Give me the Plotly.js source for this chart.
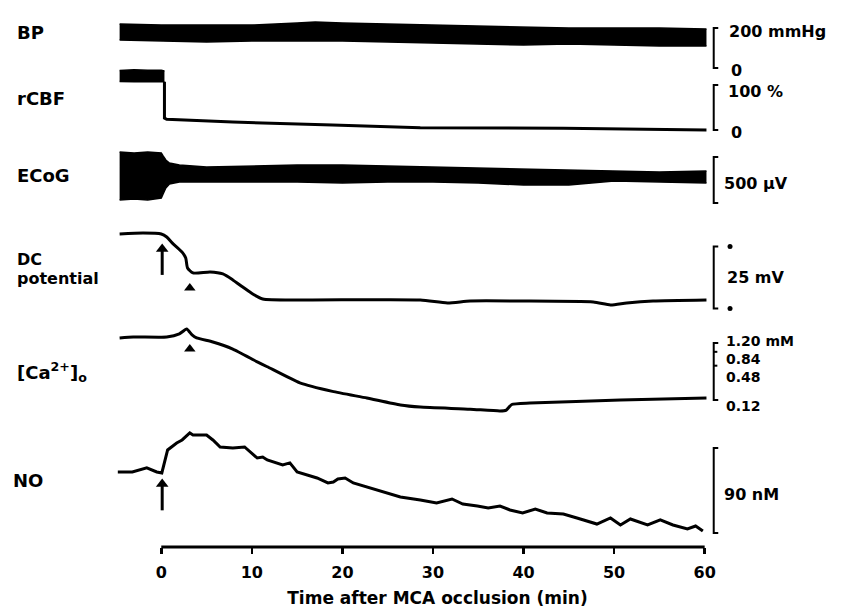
<!DOCTYPE html>
<html>
<head>
<meta charset="utf-8">
<script src="https://cdn.plot.ly/plotly-3.0.1.min.js"></script>
<style>
  html, body { margin: 0; padding: 0; background: #ffffff; }
  #chart { width: 846px; height: 609px; }
</style>
</head>
<body>
<div id="chart"></div>
<script>
// ---------------- data ----------------
// time axis in minutes after MCA occlusion
const xTicks = [0, 10, 20, 30, 40, 50, 60];

// Blood pressure (mmHg) — envelope of the pulsatile trace
const bpTime  = [-4.6, 0, 5, 10, 15, 17, 20, 25, 30, 35, 40, 45, 50, 55, 60.2];
const bpUpper = [220, 215, 215, 215, 225, 230, 225, 220, 215, 210, 205, 200, 200, 200, 195];
const bpLower = [140, 135, 130, 135, 135, 135, 135, 130, 125, 120, 115, 120, 115, 110, 110];

// rCBF (%) — pre-occlusion band, then post-occlusion trace
const rcbfPreTime  = [-4.6, -3, -1.5, 0, 0.35];
const rcbfPreUpper = [132, 134, 133, 133, 131];
const rcbfPreLower = [108, 107, 108, 107, 107];
const rcbfTime  = [0.35, 0.35, 0.6, 7.9, 18.9, 28.6, 44.4, 60.2];
const rcbfValue = [107, 26.7, 24, 17.8, 11.1, 5.1, 3.7, 0];

// ECoG (µV) — envelope of the signal
const ecogTime  = [-4.6, -3, -1.5, 0, 0.2, 0.5, 0.9, 2, 5, 10, 15, 20, 25, 30, 35, 40, 45, 50, 55, 60.2];
const ecogUpper = [304, 293, 304, 293, 261, 217, 185, 163, 141, 152, 163, 163, 152, 141, 130, 120, 109, 98, 87, 98];
const ecogLower = [-217, -207, -217, -196, -152, -87, -43, -22, -22, -22, -22, -33, -22, -22, -33, -54, -54, -11, -22, -33];

// DC potential (mV, relative to baseline)
const dcTime  = [-4.6, -2, 0, 0.6, 1.2, 2.3, 2.7, 2.9, 3.5, 5.4, 6.8, 7.9, 9.0, 10.1, 11.2, 15.3, 28.6, 31.6, 34.1, 39.6, 47.7, 49.6, 51.4, 54.3, 60.2];
const dcValue = [0, 0.4, 0, -1.2, -3.6, -7.3, -9.7, -13.7, -15.7, -15.3, -16.1, -18.5, -21.4, -24.2, -26.2, -26.6, -26.6, -27.8, -27.0, -27.0, -27.4, -28.6, -27.8, -27.0, -26.6];

// extracellular calcium (mM, log scale)
const caTime  = [-4.6, -3.1, 0.6, 2.0, 2.8, 3.4, 3.9, 5.7, 7.9, 10.6, 11.7, 15.3, 18.9, 22.7, 26.4, 28.6, 34.1, 37.4, 38.1, 38.7, 40.7, 50.7, 60.2];
const caValue = [1.47, 1.53, 1.53, 1.73, 2.11, 1.66, 1.47, 1.25, 0.94, 0.56, 0.46, 0.24, 0.17, 0.13, 0.098, 0.090, 0.083, 0.077, 0.080, 0.100, 0.106, 0.120, 0.130];

// NO (nM)
const noTime  = [-4.8, -3.2, -1.6, -0.5, 0.06, 0.4, 0.7, 1.7, 2.3, 3.15, 3.5, 5.0, 5.7, 6.5, 7.9, 9.2, 10.6, 11.2, 11.7, 13.4, 14.2, 15.0, 17.2, 18.4, 19.0, 19.5, 20.3, 21.2, 22.7, 24.5, 26.4, 28.6, 30.4, 32.1, 33.3, 34.9, 36.1, 37.4, 38.5, 39.9, 41.3, 42.6, 44.4, 45.9, 48.1, 49.6, 50.7, 51.8, 53.7, 55.1, 56.5, 58.1, 59.0, 59.8];
const noValue = [64.6, 64.6, 68.9, 64.6, 63.6, 75.2, 87.9, 95.3, 98.5, 105.9, 103.8, 103.8, 98.5, 91.1, 90.0, 91.1, 79.4, 80.5, 77.3, 72.0, 74.2, 64.6, 58.3, 53.0, 54.0, 57.2, 58.3, 53.0, 48.7, 43.4, 38.1, 35.0, 31.8, 36.0, 30.7, 28.6, 26.5, 28.6, 24.4, 21.2, 25.4, 21.2, 20.1, 15.9, 9.5, 15.9, 8.5, 14.8, 8.5, 13.8, 8.5, 4.2, 7.4, 2.1];

// scale bars
const bpScale   = [0, 200];
const rcbfScale = [0, 100];
const ecogScale = [-250, 250];
const dcScale   = [-5, -30];
const caScale   = [1.20, 0.84, 0.48, 0.12];
const noScale   = [0, 90];

// event markers
const occlusionTime = 0.1;
const dcArrowSpan = [-16.5, -6.0];   // mV
const noArrowSpan = [24, 52];        // nM
const depolTime = 3.15;

// ---------------- layout geometry ----------------
const FONT = 'DejaVu Sans, sans-serif';
const M = {l: 116, r: 87, t: 0, b: 62};
const PLOT_H = 609 - M.t - M.b;   // 547
const PLOT_W = 846 - M.l - M.r;   // 643
const X_RANGE = [-5, 66];

function yRange(v1, p1, v2, p2) {
  const k = (p2 - p1) / (v2 - v1);
  return [v1 + (PLOT_H - p1) / k, v1 + (0 - p1) / k];
}
function paperY(py) { return 1 - py / PLOT_H; }
function paperX(px) { return (px - M.l) / PLOT_W; }

const BX = 61.0, BX2 = 61.5;  // bracket position (min units)

function band(t, lo, hi, ya) {
  return [
    {x: t, y: lo, yaxis: ya, mode: 'lines', line: {color: 'black', width: 1.5}, hoverinfo: 'skip', showlegend: false},
    {x: t, y: hi, yaxis: ya, mode: 'lines', fill: 'tonexty', fillcolor: 'black', line: {color: 'black', width: 1.5}, hoverinfo: 'skip', showlegend: false}
  ];
}
function bracket(top, bottom, ya, extra) {
  const xs = [BX2, BX, BX, BX2], ys = [top, top, bottom, bottom];
  (extra || []).forEach(v => { xs.push(null, BX, BX + 0.4); ys.push(null, v, v); });
  return {x: xs, y: ys, yaxis: ya, mode: 'lines', line: {color: 'black', width: 2}, hoverinfo: 'skip', showlegend: false};
}
function upArrow(t, span, ya) {
  return [
    {x: [t, t], y: span, yaxis: ya, mode: 'lines', line: {color: 'black', width: 3}, hoverinfo: 'skip', showlegend: false},
    {x: [t], y: [span[1]], yaxis: ya, mode: 'markers',
     marker: {symbol: 'triangle-up', color: 'black', size: 11, opacity: 1, line: {width: 0}}, hoverinfo: 'skip', showlegend: false}
  ];
}

const traces = [
  ...band(bpTime, bpLower, bpUpper, 'y'),
  ...band(rcbfPreTime, rcbfPreLower, rcbfPreUpper, 'y2'),
  {x: rcbfTime, y: rcbfValue, yaxis: 'y2', mode: 'lines', line: {color: 'black', width: 3}, showlegend: false},
  ...band(ecogTime, ecogLower, ecogUpper, 'y3'),
  {x: dcTime, y: dcValue, yaxis: 'y4', mode: 'lines', line: {color: 'black', width: 3, shape: 'spline', smoothing: 0.6}, showlegend: false},
  {x: caTime, y: caValue, yaxis: 'y5', mode: 'lines', line: {color: 'black', width: 3, shape: 'spline', smoothing: 0.5}, showlegend: false},
  {x: noTime, y: noValue, yaxis: 'y6', mode: 'lines', line: {color: 'black', width: 3}, showlegend: false},
  bracket(bpScale[1], bpScale[0], 'y'),
  bracket(rcbfScale[1], rcbfScale[0], 'y2'),
  bracket(ecogScale[1], ecogScale[0], 'y3'),
  bracket(dcScale[0], dcScale[1], 'y4'),
  bracket(caScale[0], caScale[3], 'y5', [caScale[1], caScale[2]]),
  bracket(noScale[1], noScale[0], 'y6'),
  {x: [62.8, 62.8], y: dcScale, yaxis: 'y4', mode: 'markers', marker: {color: 'black', size: 5}, showlegend: false, hoverinfo: 'skip'},
  // occlusion arrows
  ...upArrow(occlusionTime, dcArrowSpan, 'y4'),
  ...upArrow(occlusionTime, noArrowSpan, 'y6'),
  // depolarisation markers (arrowheads under the DC and Ca traces)
  {x: [depolTime], y: [-21.8], yaxis: 'y4', mode: 'markers', marker: {symbol: 'triangle-up', color: 'black', size: 10}, showlegend: false, hoverinfo: 'skip'},
  {x: [depolTime], y: [0.94], yaxis: 'y5', mode: 'markers', marker: {symbol: 'triangle-up', color: 'black', size: 10}, showlegend: false, hoverinfo: 'skip'}
];

const hidden = {visible: false, fixedrange: true, overlaying: 'y', domain: [0, 1]};

const leftFont = {family: FONT, size: 18, color: 'black', weight: 700};
const rightFont = {family: FONT, size: 16, color: 'black', weight: 700};
const caFont = {family: FONT, size: 14, color: 'black', weight: 700};
const dcFont = {family: FONT, size: 16, color: 'black', weight: 700};

function leftLabel(text, py, px, font) {
  return {text: text, xref: 'paper', yref: 'paper', x: paperX(px || 16), y: paperY(py), xanchor: 'left', yanchor: 'middle',
          showarrow: false, font: font || leftFont, borderpad: 0};
}
function rightLabel(text, x, y, ya, yshift, font) {
  return {text: text, xref: 'x', yref: ya, x: x, y: y, xanchor: 'left', yanchor: 'middle', showarrow: false,
          font: font || rightFont, yshift: yshift || 0, borderpad: 0};
}

const annotations = [
  leftLabel('BP', 33),
  leftLabel('rCBF', 98),
  leftLabel('ECoG', 175),
  leftLabel('DC', 259, 16, dcFont),
  leftLabel('potential', 278, 16, dcFont),
  leftLabel('[Ca<sup>2+</sup>]<sub>o</sub>', 372),
  leftLabel('NO', 480, 12),
  rightLabel('200 mmHg', 62.6, bpScale[1], 'y', -3),
  rightLabel('0', 62.8, bpScale[0], 'y', -2),
  rightLabel('100 %', 62.5, rcbfScale[1], 'y2', -6),
  rightLabel('0', 62.8, rcbfScale[0], 'y2', -2),
  rightLabel('500 µV', 62.0, 0, 'y3', -3),
  rightLabel('25 mV', 62.4, -17.5, 'y4', 0),
  rightLabel('1.20 mM', 62.2, Math.log10(caScale[0]), 'y5', 2, caFont),
  rightLabel('0.84', 62.2, Math.log10(caScale[1]), 'y5', -7, caFont),
  rightLabel('0.48', 62.2, Math.log10(caScale[2]), 'y5', -11, caFont),
  rightLabel('0.12', 62.2, Math.log10(caScale[3]), 'y5', -6, caFont),
  rightLabel('90 nM', 62.0, 45, 'y6', -4)
];

const layout = {
  width: 846, height: 609,
  margin: M,
  paper_bgcolor: 'white', plot_bgcolor: 'white',
  showlegend: false,
  font: {family: FONT, color: 'black'},
  xaxis: {
    range: X_RANGE, fixedrange: true,
    tickvals: xTicks, ticktext: xTicks.map(String),
    ticks: 'outside', ticklen: 6, tickwidth: 2.5, tickcolor: 'black',
    ticklabelstandoff: 5,
    showline: false, zeroline: false, showgrid: false,
    tickfont: {family: FONT, size: 16, color: 'black', weight: 700},
    title: {text: 'Time after MCA occlusion (min)', standoff: 10,
            font: {family: FONT, size: 17, color: 'black', weight: 700}}
  },
  yaxis:  {visible: false, fixedrange: true, domain: [0, 1], range: yRange(200, 28, 0, 68)},
  yaxis2: Object.assign({}, hidden, {range: yRange(100, 85, 0, 130)}),
  yaxis3: Object.assign({}, hidden, {range: yRange(250, 157, -250, 203)}),
  yaxis4: Object.assign({}, hidden, {range: yRange(0, 234, -25, 296)}),
  yaxis5: Object.assign({}, hidden, {type: 'log', range: yRange(Math.log10(1.2), 343, Math.log10(0.12), 400)}),
  yaxis6: Object.assign({}, hidden, {range: yRange(90, 448, 0, 533)}),
  shapes: [
    {type: 'line', xref: 'x', yref: 'paper', x0: 0, x1: 60, y0: 0, y1: 0, line: {color: 'black', width: 3}}
  ],
  annotations: annotations
};

Plotly.newPlot('chart', traces, layout, {staticPlot: true, displayModeBar: false});
</script>
</body>
</html>
